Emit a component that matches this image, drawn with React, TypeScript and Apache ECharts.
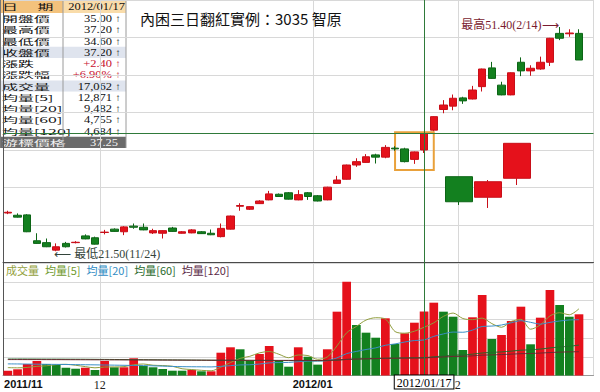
import React, { useEffect, useRef } from 'react';
import * as echarts from 'echarts';

const dates = [
  '2011/11/17','2011/11/18','2011/11/21','2011/11/22','2011/11/23','2011/11/24','2011/11/25','2011/11/28','2011/11/29','2011/11/30',
  '2011/12/01','2011/12/02','2011/12/05','2011/12/06','2011/12/07','2011/12/08','2011/12/09','2011/12/12','2011/12/13','2011/12/14',
  '2011/12/15','2011/12/16','2011/12/19','2011/12/20','2011/12/21','2011/12/22','2011/12/23','2011/12/26','2011/12/27','2011/12/28',
  '2011/12/29','2011/12/30','2012/01/02','2012/01/03','2012/01/04','2012/01/05','2012/01/06','2012/01/09','2012/01/10','2012/01/11',
  '2012/01/12','2012/01/13','2012/01/16','2012/01/17','2012/01/18','2012/01/30','2012/01/31','2012/02/01','2012/02/02','2012/02/03',
  '2012/02/04','2012/02/06','2012/02/07','2012/02/08','2012/02/09','2012/02/10','2012/02/13','2012/02/14','2012/02/15','2012/02/16',
];

const opens = [
  26.6, 26.3, 26.35, 22.9, 22.65, 21.65, 22.55, 22.65, 23.55, 23.3,
  24.0, 24.45, 24.1, 24.85, 24.7, 23.95, 23.9, 24.6, 23.9, 23.95,
  24.1, 23.9, 23.45, 24.45, 27.5, 27.1, 27.85, 28.35, 29.1, 29.3,
  28.35, 29.3, 28.9, 28.35, 30.55, 31.1, 33.0, 33.35, 34.35, 34.05,
  35.25, 35.15, 33.75, 35.0, 37.65, 40.4, 40.85, 41.95, 41.8, 43.45,
  45.95, 43.65, 42.35, 46.7, 45.55, 45.8, 46.7, 50.55, 50.5, 50.55,
];
const highs = [
  26.9, 26.55, 26.45, 23.9, 23.2, 22.55, 22.75, 22.85, 23.75, 23.45,
  24.35, 24.55, 24.85, 25.2, 25.2, 24.5, 24.3, 24.75, 24.2, 24.45,
  24.2, 24.4, 25.2, 26.25, 27.9, 27.5, 28.3, 29.55, 29.2, 29.4,
  29.65, 29.4, 29.0, 30.1, 31.55, 33.05, 33.9, 34.45, 34.5, 35.65,
  35.5, 35.3, 34.8, 37.2, 39.5, 41.65, 42.4, 42.1, 43.55, 45.85,
  46.75, 44.1, 45.35, 47.35, 46.3, 47.45, 49.95, 51.4, 51.1, 51.1,
];
const lows = [
  26.45, 26.0, 24.05, 22.5, 22.05, 21.5, 22.0, 22.55, 23.1, 22.4,
  23.75, 24.1, 23.65, 24.5, 24.3, 23.8, 23.2, 24.1, 23.85, 23.9,
  23.8, 23.65, 23.35, 24.4, 26.9, 27.0, 27.8, 28.3, 28.75, 28.4,
  28.3, 28.35, 28.15, 28.3, 30.5, 31.05, 32.75, 33.3, 33.2, 33.9,
  34.9, 33.35, 33.15, 34.6, 37.5, 39.9, 40.3, 41.15, 41.75, 42.8,
  44.5, 42.3, 42.3, 44.85, 44.9, 45.7, 46.2, 49.65, 50.1, 47.0,
];
const closes = [
  26.7, 26.05, 24.1, 22.55, 22.1, 22.1, 22.1, 22.7, 23.15, 22.45,
  24.05, 24.15, 24.75, 24.7, 24.35, 24.25, 24.25, 24.15, 24.1, 24.35,
  23.85, 23.7, 24.55, 26.2, 27.6, 27.45, 28.2, 29.15, 28.8, 28.45,
  29.05, 28.8, 28.2, 30.05, 31.0, 33.0, 33.45, 34.1, 34.05, 35.35,
  35.15, 33.45, 34.75, 37.2, 39.45, 41.0, 41.9, 41.55, 43.0, 45.8,
  44.55, 42.35, 45.3, 45.55, 45.9, 46.7, 49.9, 49.9, 50.6, 47.0,
];

const volumes = [
  1280, 1650, 3070, 3870, 3070, 2800, 2080, 1810, 2080, 1470,
  3870, 2190, 2190, 4590, 2530, 2190, 1730, 1280, 1280, 1470,
  1120, 1120, 6080, 7520, 6990, 3870, 5730, 7870, 3870, 2350,
  7520, 5010, 2900, 6990, 17020, 25020, 13470, 11420, 10080, 15250,
  8400, 11250, 14080, 17062, 19420, 17020, 15680, 6800, 15520, 21470,
  9730, 10800, 14530, 18350, 8320, 15420, 22800, 18800, 15680, 16320,
];
const volumeUp = [
  1, 1, 1, 1, 0, 0, 0, 0, 1, 0,
  1, 0, 1, 1, 0, 0, 0, 0, 0, 1,
  0, 1, 1, 1, 0, 0, 1, 1, 0, 0,
  1, 0, 0, 1, 1, 1, 0, 0, 0, 1,
  0, 1, 1, 1, 1, 0, 0, 0, 1, 1,
  0, 1, 1, 1, 0, 1, 1, 0, 0, 1,
];
const ma5 = [
  2100, 2050, 2150, 2450, 2590, 2890, 2980, 2730, 2370, 2050,
  2260, 2280, 2360, 2860, 3070, 2740, 2650, 2460, 1800, 1590,
  1380, 1250, 2210, 3460, 4570, 5120, 6040, 6400, 5670, 4740,
  5470, 5320, 4330, 4950, 7890, 11390, 13080, 14780, 15400, 15050,
  11720, 11280, 11810, 12871, 14040, 15770, 16650, 15200, 14890, 15300,
  13840, 12860, 14410, 14980, 12350, 13480, 15880, 16740, 16200, 17800,
];
const ma20 = [
  3100, 3080, 3050, 3020, 2990, 2960, 2930, 2900, 2870, 2840,
  2800, 2760, 2720, 2680, 2640, 2580, 2500, 2420, 2360, 2330,
  2320, 2290, 2440, 2620, 2820, 2870, 3060, 3360, 3450, 3490,
  3680, 3820, 3850, 3970, 4700, 5840, 6420, 6930, 7370, 8060,
  8420, 8930, 9330, 9482, 10430, 11090, 11580, 11530, 12110, 13070,
  13180, 13470, 14050, 14610, 14180, 13700, 14170, 14530, 14810, 14870,
];
const ma60 = [
  4400, 4400, 4390, 4380, 4370, 4360, 4350, 4340, 4330, 4310,
  4290, 4270, 4250, 4230, 4210, 4190, 4170, 4150, 4130, 4110,
  4090, 4070, 4050, 4040, 4030, 4020, 4010, 4000, 3990, 3980,
  3970, 3960, 3950, 3980, 4100, 4280, 4380, 4460, 4530, 4610,
  4650, 4690, 4720, 4755, 4980, 5200, 5420, 5500, 5700, 6000,
  6150, 6300, 6500, 6750, 6850, 7050, 7350, 7600, 7800, 8100,
];
const ma120 = [
  4250, 4250, 4240, 4240, 4230, 4230, 4220, 4210, 4200, 4190,
  4180, 4170, 4160, 4150, 4140, 4130, 4120, 4110, 4100, 4090,
  4080, 4070, 4060, 4060, 4050, 4050, 4040, 4040, 4030, 4030,
  4020, 4020, 4010, 4030, 4130, 4300, 4380, 4450, 4500, 4570,
  4600, 4630, 4650, 4684, 4820, 4950, 5080, 5130, 5250, 5420,
  5500, 5580, 5690, 5820, 5870, 5980, 6120, 6230, 6300, 6350,
];

// illustration of the pattern (three schematic candles)
const insetOpens = [31.44, 28.7, 31.23];
const insetCloses = [28.1, 30.77, 35.89];
const insetLows = [27.67, 27.27, 30.33];
const insetHighs = [31.44, 31.0, 35.89];

const monthStartDates = ['2011/11/17', '2011/12/01', '2012/01/02', '2012/02/01'];
const xTickLabels = ['2011/11', '12', '2012/01', '2'];

const crosshairDate = '2012/01/17';
const crosshairPrice = 37.25;
const highDate = '2012/02/14';
const highPrice = 51.4;
const lowDate = '2011/11/24';
const lowPrice = 21.5;
const boxStartDate = '2012/01/12';
const boxEndDate = '2012/01/18';
const boxTop = 37.36;
const boxBottom = 32.33;

const tableLabels = ['日　 期', '開盤價', '最高價', '最低價', '收盤價', '漲跌', '漲跌幅', '成交量', '均量[5]', '均量[20]', '均量[60]', '均量[120]', '游標價格'];
const tableValues = ['2012/01/17', '35.00', '37.20', '34.60', '37.20', '+2.40', '+6.90%', '17,062', '12,871', '9,482', '4,755', '4,684', '37.25'];

const titleText = '內困三日翻紅實例：3035 智原';

const RED = '#e5111b';
const GREEN = '#13801f';

export default function App() {
  const ref = useRef<HTMLDivElement>(null);
  useEffect(() => {
    if (!ref.current) return;
    const chart = echarts.init(ref.current, null, { renderer: 'svg' });
    const monthIdx = monthStartDates.map((d) => dates.indexOf(d));

    const tableChildren: any[] = [];
    tableLabels.forEach((lab, i) => {
      const y = i === 0 ? 0 : 13 + (i - 1) * 11.25;
      const h = i === 0 ? 13 : 11.25;
      const cy = y + h / 2;
      if (i === 0) {
        tableChildren.push({ type: 'rect', shape: { x: 0, y, width: 63, height: h }, style: { fill: '#f3c27c' } });
        tableChildren.push({ type: 'rect', shape: { x: 63, y, width: 63, height: h }, style: { fill: '#f9dcaa' } });
      } else {
        let bg = '#ffffff';
        if (i === 4 || i === 7) bg = '#dfe4ee';
        if (i === tableLabels.length - 1) bg = '#6b6b6b';
        tableChildren.push({ type: 'rect', shape: { x: 0, y, width: 126, height: h }, style: { fill: bg } });
      }
      const last = i === tableLabels.length - 1;
      tableChildren.push({
        type: 'text', x: 2, y: cy, scaleX: 1.45, scaleY: 0.7,
        style: { text: lab, fill: last ? '#f4f4f4' : '#111', font: '11px "Noto Sans CJK TC"', textVerticalAlign: 'middle', textAlign: 'left' },
      });
      const red = i === 5 || i === 6;
      tableChildren.push({
        type: 'text', x: i === 0 ? 125 : last ? 118 : 112, y: cy, scaleX: 1.25,
        style: { text: tableValues[i], fill: last ? '#f4f4f4' : red ? '#c8102e' : '#111', font: '10px "Liberation Serif"', textVerticalAlign: 'middle', textAlign: 'right' },
      });
      if (i > 0 && !last) {
        tableChildren.push({
          type: 'text', x: 118, y: cy,
          style: { text: '↑', fill: red ? '#c8102e' : '#111', font: '10px "Liberation Serif"', textVerticalAlign: 'middle', textAlign: 'center' },
        });
      }
    });
    tableChildren.push({ type: 'line', shape: { x1: 63, y1: 0, x2: 63, y2: 148 }, style: { stroke: '#9a9a9a', lineWidth: 1 } });
    tableChildren.push({ type: 'line', shape: { x1: 126, y1: 0, x2: 126, y2: 148 }, style: { stroke: '#9a9a9a', lineWidth: 1 } });
    tableChildren.push({ type: 'line', shape: { x1: 0.5, y1: 0, x2: 0.5, y2: 148 }, style: { stroke: '#777', lineWidth: 1 } });

    const splitLine = { show: true, interval: (i: number) => monthIdx.includes(i), lineStyle: { color: '#d8d8d8' } };

    const option: any = {
      animation: false,
      backgroundColor: '#ffffff',
      grid: [
        { left: 3, top: 0, width: 590.5, height: 262.5 },
        { left: 3, top: 263, width: 590.5, height: 112.5 },
        { left: 444.5, top: 0, width: 87, height: 262.5 },
      ],
      xAxis: [
        {
          type: 'category', gridIndex: 0, data: dates, max: 60,
          axisLine: { show: true, lineStyle: { color: '#4a4a4a' } },
          axisTick: { show: false }, axisLabel: { show: false }, splitLine,
        },
        {
          type: 'category', gridIndex: 1, data: dates, max: 60,
          axisLine: { show: true, lineStyle: { color: '#999' } },
          axisTick: { show: false },
          axisLabel: {
            interval: (i: number) => monthIdx.includes(i),
            margin: 3,
            padding: [0, 10, 0, 0],
            formatter: (_v: string, i: number) => {
              const k = monthIdx.indexOf(i);
              if (k < 0) return '';
              const t = xTickLabels[k];
              if (k === 0) return `{f|${t}}`;
              return t.length > 2 ? `{a|${t}}` : `{b|${t}}`;
            },
            rich: {
              f: { fontFamily: 'Liberation Sans', fontWeight: 'bold', fontSize: 11, color: '#111', padding: [0, 0, 0, 41] },
              a: { fontFamily: 'Liberation Sans', fontWeight: 'bold', fontSize: 11, color: '#111' },
              b: { fontFamily: 'Liberation Serif', fontSize: 12, color: '#222' },
            },
          },
          splitLine,
        },
        { type: 'category', gridIndex: 2, data: ['a', 'b', 'c'], show: false },
      ],
      yAxis: [
        {
          type: 'value', gridIndex: 0, min: 20, max: 55, interval: 5,
          axisLine: { show: true, lineStyle: { color: '#555' } }, axisTick: { show: false }, axisLabel: { show: false },
          splitLine: { lineStyle: { color: '#d8d8d8' } },
        },
        {
          type: 'value', gridIndex: 1, min: 0, max: 30000, interval: 5000,
          axisLine: { show: true, lineStyle: { color: '#555' } }, axisTick: { show: false }, axisLabel: { show: false },
          splitLine: { lineStyle: { color: '#d8d8d8' } },
        },
        { type: 'value', gridIndex: 2, min: 20, max: 55, show: false },
      ],
      legend: {
        left: 1, top: 264, icon: 'none', itemWidth: 0, itemHeight: 0, itemGap: 1, padding: 0,
        selectedMode: false,
        textStyle: { fontSize: 11, fontFamily: '"Noto Sans CJK TC"' },
        data: [
          { name: '成交量', textStyle: { color: '#939f3c' } },
          { name: '均量[5]', textStyle: { color: '#6f9a2c' } },
          { name: '均量[20]', textStyle: { color: '#2f8cc4' } },
          { name: '均量[60]', textStyle: { color: '#2a6a2c' } },
          { name: '均量[120]', textStyle: { color: '#5a2a46' } },
        ],
      },
      graphic: [
        {
          type: 'text', x: 140, y: 18, z: 100,
          style: { text: titleText, fill: '#111', font: '15px "Noto Sans CJK TC"', textVerticalAlign: 'middle' },
        },
        { type: 'group', x: 0, y: 0, z: 100, children: tableChildren },
      ],
      series: [
        {
          name: 'K', type: 'candlestick', xAxisIndex: 0, yAxisIndex: 0, barWidth: 8,
          data: dates.map((_, i) => [opens[i], closes[i], lows[i], highs[i]]),
          itemStyle: { color: RED, color0: GREEN, borderColor: '#c80f19', borderColor0: '#0c6516', borderWidth: 1 },
          markLine: {
            silent: true, symbol: ['none', 'none'], label: { show: false },
            lineStyle: { color: '#2f7a3a', width: 1, type: 'solid' },
            data: [{ xAxis: crosshairDate }, { yAxis: crosshairPrice }],
          },
          markArea: {
            silent: true,
            itemStyle: { color: 'rgba(0,0,0,0)', borderColor: '#e9a13b', borderWidth: 2 },
            data: [[{ xAxis: boxStartDate, yAxis: boxTop }, { xAxis: boxEndDate, yAxis: boxBottom }]],
          },
          markPoint: {
            silent: true, symbol: 'circle', symbolSize: 0,
            data: [
              {
                coord: [highDate, highPrice],
                label: {
                  show: true, position: 'left', distance: 1, offset: [0, -2],
                  formatter: `最高${highPrice.toFixed(2)}(2/14)⟶`,
                  color: '#7a1c30', fontSize: 12, fontFamily: '"Liberation Serif", "Noto Sans CJK TC"',
                },
              },
              {
                coord: [lowDate, lowPrice],
                label: {
                  show: true, position: 'right', distance: 0, offset: [-2, 3],
                  formatter: `⟵ 最低${lowPrice.toFixed(2)}(11/24)`,
                  color: '#33443a', fontSize: 12, fontFamily: '"Liberation Serif", "Noto Sans CJK TC"',
                },
              },
            ],
          },
        },
        {
          name: '成交量', type: 'bar', xAxisIndex: 1, yAxisIndex: 1, barWidth: '90%',
          itemStyle: { color: '#939f3c' },
          data: volumes.map((v, i) => ({ value: v, itemStyle: { color: volumeUp[i] ? RED : GREEN } })),
          markLine: {
            silent: true, symbol: ['none', 'none'],
            lineStyle: { color: '#2f7a3a', width: 1, type: 'solid' },
            label: {
              show: true, position: 'start', distance: 0, formatter: crosshairDate,
              backgroundColor: '#fff', borderColor: '#000', borderWidth: 1, padding: [1, 2, 0, 2],
              fontFamily: 'Liberation Serif', fontSize: 12, color: '#000',
            },
            data: [{ xAxis: crosshairDate }],
          },
        },
        { name: '均量[5]', type: 'line', xAxisIndex: 1, yAxisIndex: 1, data: ma5, showSymbol: false, smooth: 0.3, lineStyle: { color: '#8f9c3c', width: 1 }, itemStyle: { color: '#8f9c3c' } },
        { name: '均量[20]', type: 'line', xAxisIndex: 1, yAxisIndex: 1, data: ma20, showSymbol: false, smooth: 0.3, lineStyle: { color: '#3a8fc6', width: 1 }, itemStyle: { color: '#3a8fc6' } },
        { name: '均量[60]', type: 'line', xAxisIndex: 1, yAxisIndex: 1, data: ma60, showSymbol: false, smooth: 0.3, lineStyle: { color: '#23692a', width: 1 }, itemStyle: { color: '#23692a' } },
        { name: '均量[120]', type: 'line', xAxisIndex: 1, yAxisIndex: 1, data: ma120, showSymbol: false, smooth: 0.3, lineStyle: { color: '#6a2a30', width: 1 }, itemStyle: { color: '#6a2a30' } },
        {
          name: 'inset', type: 'candlestick', xAxisIndex: 2, yAxisIndex: 2, barWidth: 27,
          data: insetOpens.map((o, i) => [o, insetCloses[i], insetLows[i], insetHighs[i]]),
          itemStyle: { color: RED, color0: GREEN, borderColor: '#c80f19', borderColor0: '#0c6516', borderWidth: 1 },
        },
      ],
    };
    chart.setOption(option);
    return () => chart.dispose();
  }, []);
  return <div ref={ref} style={{ position: 'fixed', left: 0, top: 0, width: 600, height: 392 }} />;
}
